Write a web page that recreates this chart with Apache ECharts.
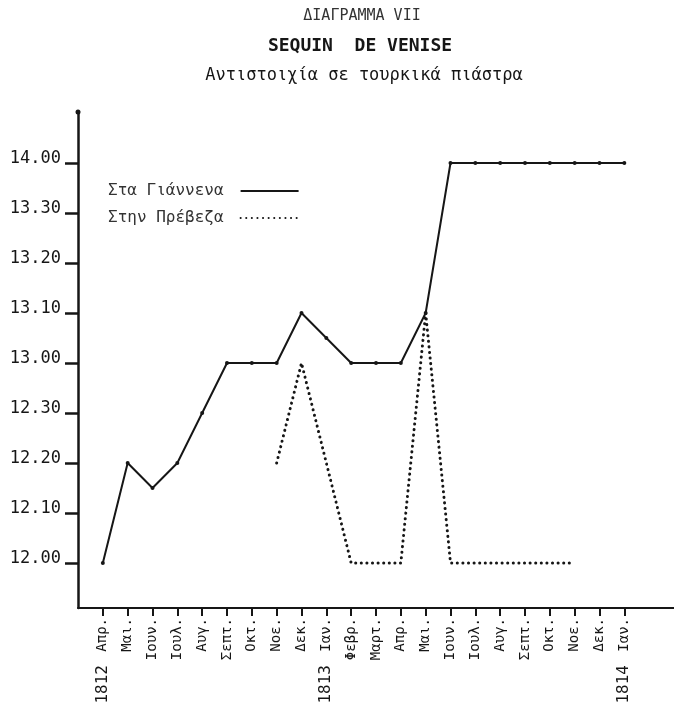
<!DOCTYPE html>
<html>
<head>
<meta charset="utf-8">
<script src="https://cdn.jsdelivr.net/npm/echarts@6/dist/echarts.min.js"></script>
<style>
  html, body { margin: 0; padding: 0; background: #fff; }
  #chart { width: 674px; height: 723px; }
</style>
</head>
<body>
<div id="chart"></div>
<script>
// months from Apr 1812 to Jan 1814
const months = ['Απρ.', 'Μαι.', 'Ιουν.', 'Ιουλ.', 'Αυγ.', 'Σεπτ.', 'Οκτ.', 'Νοε.', 'Δεκ.',
  'Ιαν.', 'Φεβρ.', 'Μαρτ.', 'Απρ.', 'Μαι.', 'Ιουν.', 'Ιουλ.', 'Αυγ.', 'Σεπτ.', 'Οκτ.', 'Νοε.', 'Δεκ.', 'Ιαν.'];
const yearIdx = [0, 9, 21];
const yearNames = ['1812', '1813', '1814'];

// values in paras (1 piastre = 40 paras), 12.00 -> 480
const yTicks = [480, 490, 500, 510, 520, 530, 540, 550, 560];
const giannena = [480, 500, 495, 500, 510, 520, 520, 520, 530, 525, 520, 520, 520, 530,
  560, 560, 560, 560, 560, 560, 560, 560];
const preveza = [null, null, null, null, null, null, null, 500, 520, 500, 480, 480, 480, 530,
  480, 480, 480, 480, 480, 480, null, null];

const font = '"DejaVu Sans Mono", monospace';
const ink = '#161616';

function fmtPara(v) {
  const p = Math.floor(v / 40);
  const r = v - p * 40;
  return p + '.' + (r < 10 ? '0' : '') + r;
}

const idx = months.map((m, i) => i);

const chart = echarts.init(document.getElementById('chart'));
chart.setOption({
  backgroundColor: '#fff',
  animation: false,
  title: [
    { text: 'ΔΙΑΓΡΑΜΜΑ VII', left: 357, top: 4, textAlign: 'center',
      textStyle: { fontFamily: font, fontSize: 15, fontWeight: 'normal', color: '#333' } },
    { text: 'SEQUIN  DE VENISE', left: 355, top: 32, textAlign: 'center',
      textStyle: { fontFamily: font, fontSize: 18, fontWeight: 'bold', color: ink } },
    { text: 'Αντιστοιχία σε τουρκικά πιάστρα', left: 359, top: 62, textAlign: 'center',
      textStyle: { fontFamily: font, fontSize: 17, fontWeight: 'normal', color: ink } }
  ],
  legend: {
    left: 103, top: 178, orient: 'vertical', align: 'right', itemGap: 11,
    itemWidth: 58, itemHeight: 14,
    textStyle: { fontFamily: font, fontSize: 16, color: '#333', padding: [0, 12, 0, 0] },
    itemStyle: { opacity: 0 },
    data: ['Στα Γιάννενα', 'Στην Πρέβεζα']
  },
  grid: { left: 78, right: 0, top: 112, bottom: 115 },
  xAxis: [
    {
      type: 'value', min: -1, max: 23, interval: 1,
      splitLine: { show: false },
      axisLine: { show: true, onZero: false, lineStyle: { color: ink, width: 2 } },
      axisTick: { show: true, customValues: idx, length: 8, lineStyle: { color: ink, width: 2 } },
      axisLabel: {
        customValues: idx, rotate: 90, margin: 10,
        fontFamily: font, fontSize: 14, color: ink,
        formatter: v => months[v] || ''
      }
    },
    {
      type: 'value', min: -1, max: 23, interval: 1, position: 'bottom',
      splitLine: { show: false },
      axisLine: { show: false }, axisTick: { show: false },
      axisLabel: {
        customValues: yearIdx, rotate: 90, margin: 57,
        fontFamily: font, fontSize: 16, color: ink,
        formatter: v => yearNames[yearIdx.indexOf(v)] || ''
      }
    }
  ],
  yAxis: {
    type: 'value', min: 471, max: 570.2,
    splitLine: { show: false },
    axisLine: { show: true, onZero: false, symbol: ['none', 'circle'], symbolSize: [5, 5],
      lineStyle: { color: ink, width: 2.5 } },
    axisTick: { show: true, customValues: yTicks, length: 13, lineStyle: { color: ink, width: 2.5 } },
    axisLabel: {
      customValues: yTicks, margin: 17, fontFamily: font, fontSize: 17, color: ink,
      verticalAlign: 'bottom', lineHeight: 8,
      formatter: v => fmtPara(v)
    }
  },
  series: [
    {
      name: 'Στα Γιάννενα', type: 'line',
      data: giannena.map((v, i) => [i, v]),
      symbol: 'circle', symbolSize: 4,
      itemStyle: { color: ink },
      lineStyle: { color: ink, width: 2 }
    },
    {
      name: 'Στην Πρέβεζα', type: 'line',
      data: preveza.map((v, i) => [i, v]),
      symbol: 'none', connectNulls: false,
      itemStyle: { color: ink },
      lineStyle: { color: ink, width: 3, type: [0.1, 5.5], cap: 'round' }
    }
  ]
});
</script>
</body>
</html>
